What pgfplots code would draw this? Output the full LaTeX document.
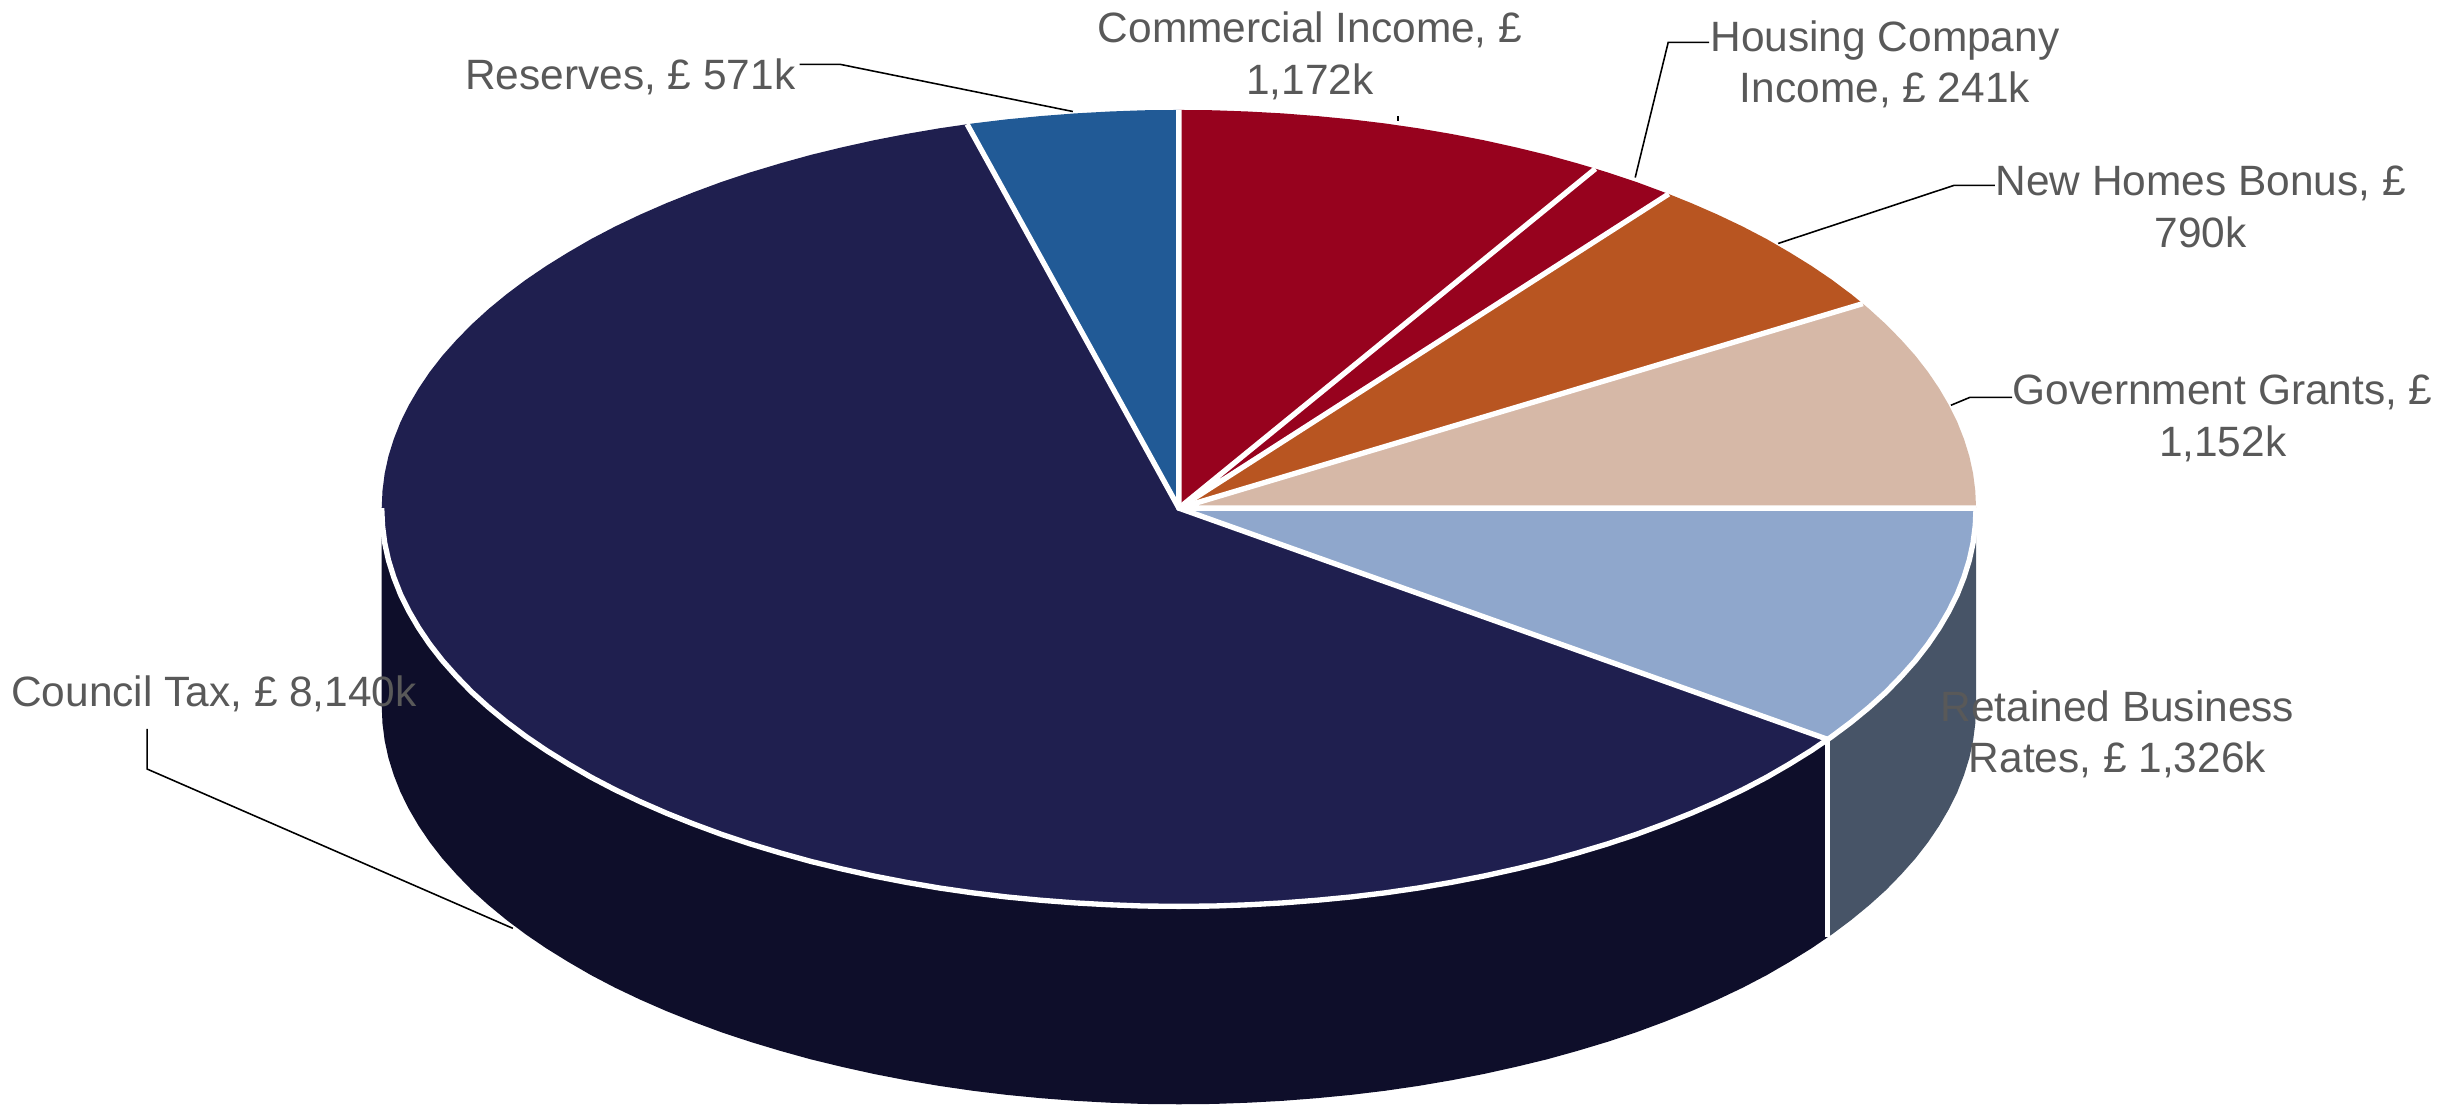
\documentclass[border=0pt]{standalone}
\usepackage{pgfplots}
\pgfplotsset{compat=1.18}
\usepackage{fontspec}
\setmainfont{Liberation Sans}
\definecolor{ctax}{HTML}{1F1F4F}
\definecolor{ctaxside}{HTML}{0E0E2A}
\definecolor{reserves}{HTML}{215A96}
\definecolor{commercial}{HTML}{97021E}
\definecolor{newhomes}{HTML}{B85521}
\definecolor{grants}{HTML}{D6B8A7}
\definecolor{retained}{HTML}{8FA7CC}
\definecolor{retainedside}{HTML}{475467}
\definecolor{labeltext}{HTML}{595959}
\tikzset{
    lbl/.style={font=\fontsize{27}{33}\selectfont, text=labeltext, align=center, inner sep=0pt},
    slice/.style={fill=#1, draw=none},
    sep/.style={draw=white, line width=3.4pt, line join=round},
    leader/.style={draw=black, line width=1pt},
}
\begin{document}
\begin{tikzpicture}
\begin{axis}[
    width=1568pt, height=703pt, scale only axis,
    xmin=0, xmax=1568, ymin=0, ymax=703, y dir=reverse,
    hide axis, clip=false,
]
% keep the whole canvas in the bounding box, hide axis drops it
\path (axis cs:0,0) rectangle (axis cs:1568,703);
% side walls
\addplot[slice=ctaxside] coordinates {
 (243.0,323.5) (243.0,449.5) (243.5,460.6) (244.9,471.6) (247.3,482.6) (250.7,493.5) (255.0,504.4) (260.3,515.1)
 (266.5,525.7) (273.6,536.2) (281.6,546.5) (290.6,556.6) (300.3,566.6) (311.0,576.25) (322.5,585.7) (334.8,594.9)
 (347.9,603.8) (361.8,612.4) (376.3,620.8) (391.6,628.8) (407.6,636.4) (424.3,643.7) (441.6,650.6) (459.4,657.2)
 (477.8,663.3) (496.75,669.0) (516.2,674.4) (536.0,679.2) (556.3,683.7) (576.9,687.7) (597.9,691.3) (619.2,694.4)
 (640.7,697.0) (662.4,699.1) (684.3,700.8) (706.2,702.0) (727.9,702.8) (750.5,703.0) (772.6,702.8) (794.8,702.0)
 (816.7,700.8) (838.6,699.1) (860.3,697.0) (881.8,694.4) (903.1,691.3) (924.1,687.7) (944.7,683.7) (965.0,679.2)
 (984.8,674.4) (1004.25,669.0) (1023.2,663.3) (1041.6,657.2) (1059.4,650.6) (1076.7,643.7) (1093.4,636.4)
 (1109.4,628.8) (1124.7,620.8) (1139.2,612.4) (1153.1,603.8) (1163.5,596.7) (1163.5,470.7) (750.5,323.5) };
\addplot[slice=retainedside] coordinates {
 (1163.5,470.7) (1163.5,596.7) (1166.2,594.9) (1178.5,585.7) (1190.0,576.25) (1200.7,566.6) (1210.4,556.6)
 (1219.4,546.5) (1227.4,536.2) (1234.5,525.7) (1240.7,515.1) (1246.0,504.4) (1250.3,493.5) (1253.7,482.6)
 (1256.1,471.6) (1257.5,460.6) (1258.0,449.5) (1258.0,323.5) (750.5,323.5) };
% top face
\addplot[slice=ctax] coordinates {
 (750.5,323.5) (615.7,79.1) (597.9,81.7) (576.9,85.3) (556.3,89.3) (536.0,93.8) (516.2,98.6) (496.75,104.0)
 (477.8,109.7) (459.4,115.8) (441.6,122.4) (424.3,129.3) (407.6,136.6) (391.6,144.2) (376.3,152.2) (361.8,160.6)
 (347.9,169.2) (334.8,178.1) (322.5,187.3) (311.0,196.75) (300.3,206.5) (290.6,216.4) (281.6,226.5) (273.6,236.8)
 (266.5,247.3) (260.3,257.9) (255.0,268.6) (250.7,279.5) (247.3,290.4) (244.9,301.4) (243.5,312.4)
 (243.0,323.5) (243.5,334.6) (244.9,345.6) (247.3,356.6) (250.7,367.5) (255.0,378.4) (260.3,389.1) (266.5,399.7)
 (273.6,410.2) (281.6,420.5) (290.6,430.6) (300.3,440.6) (311.0,450.25) (322.5,459.7) (334.8,468.9) (347.9,477.8)
 (361.8,486.4) (376.3,494.8) (391.6,502.8) (407.6,510.4) (424.3,517.7) (441.6,524.6) (459.4,531.2) (477.8,537.3)
 (496.75,543.0) (516.2,548.4) (536.0,553.2) (556.3,557.7) (576.9,561.7) (597.9,565.3) (619.2,568.4) (640.7,571.0)
 (662.4,573.1) (684.3,574.8) (706.2,576.0) (727.9,576.8) (750.5,577.0) (772.6,576.8) (794.8,576.0) (816.7,574.8)
 (838.6,573.1) (860.3,571.0) (881.8,568.4) (903.1,565.3) (924.1,561.7) (944.7,557.7) (965.0,553.2) (984.8,548.4)
 (1004.25,543.0) (1023.2,537.3) (1041.6,531.2) (1059.4,524.6) (1076.7,517.7) (1093.4,510.4) (1109.4,502.8)
 (1124.7,494.8) (1139.2,486.4) (1153.1,477.8) (1163.5,470.7) (750.5,323.5) };
\addplot[slice=reserves] coordinates {
 (750.5,323.5) (750.5,70.0) (727.9,70.2) (706.2,71.0) (684.3,72.2) (662.4,73.9) (640.7,76.0) (619.2,78.6) (615.7,79.1)
 (750.5,323.5) };
\addplot[slice=commercial] coordinates {
 (750.5,323.5) (750.5,70.0) (772.6,70.2) (794.8,71.0) (816.7,72.2) (838.6,73.9) (860.3,76.0) (881.8,78.6) (903.1,81.7)
 (924.1,85.3) (944.7,89.3) (965.0,93.8) (984.8,98.6) (1004.25,104.0) (1015.7,107.4) (1023.2,109.7) (1041.6,115.8)
 (1062.3,123.5) (750.5,323.5) };
\addplot[slice=newhomes] coordinates {
 (750.5,323.5) (1062.3,123.5) (1076.7,129.3) (1093.4,136.6) (1109.4,144.2) (1124.7,152.2) (1139.2,160.6) (1153.1,169.2)
 (1166.2,178.1) (1178.5,187.3) (1185.9,193.3) (750.5,323.5) };
\addplot[slice=grants] coordinates {
 (750.5,323.5) (1185.9,193.3) (1190.0,196.75) (1200.7,206.5) (1210.4,216.4) (1219.4,226.5) (1227.4,236.8) (1234.5,247.3)
 (1240.7,257.9) (1246.0,268.6) (1250.3,279.5) (1253.7,290.4) (1256.1,301.4) (1257.5,312.4) (1258.0,323.5) (750.5,323.5) };
\addplot[slice=retained] coordinates {
 (750.5,323.5) (1258.0,323.5) (1257.5,334.6) (1256.1,345.6) (1253.7,356.6) (1250.3,367.5) (1246.0,378.4) (1240.7,389.1)
 (1234.5,399.7) (1227.4,410.2) (1219.4,420.5) (1210.4,430.6) (1200.7,440.6) (1190.0,450.25) (1178.5,459.7) (1166.2,468.9)
 (1163.5,470.7) (750.5,323.5) };
% white separators
\addplot[sep] coordinates {
 (243.0,323.5) (243.5,334.6) (244.9,345.6) (247.3,356.6) (250.7,367.5) (255.0,378.4) (260.3,389.1) (266.5,399.7)
 (273.6,410.2) (281.6,420.5) (290.6,430.6) (300.3,440.6) (311.0,450.25) (322.5,459.7) (334.8,468.9) (347.9,477.8)
 (361.8,486.4) (376.3,494.8) (391.6,502.8) (407.6,510.4) (424.3,517.7) (441.6,524.6) (459.4,531.2) (477.8,537.3)
 (496.75,543.0) (516.2,548.4) (536.0,553.2) (556.3,557.7) (576.9,561.7) (597.9,565.3) (619.2,568.4) (640.7,571.0)
 (662.4,573.1) (684.3,574.8) (706.2,576.0) (727.9,576.8) (750.5,577.0) (772.6,576.8) (794.8,576.0) (816.7,574.8)
 (838.6,573.1) (860.3,571.0) (881.8,568.4) (903.1,565.3) (924.1,561.7) (944.7,557.7) (965.0,553.2) (984.8,548.4)
 (1004.25,543.0) (1023.2,537.3) (1041.6,531.2) (1059.4,524.6) (1076.7,517.7) (1093.4,510.4) (1109.4,502.8)
 (1124.7,494.8) (1139.2,486.4) (1153.1,477.8) (1163.5,470.7) (1166.2,468.9) (1178.5,459.7) (1190.0,450.25)
 (1200.7,440.6) (1210.4,430.6) (1219.4,420.5) (1227.4,410.2) (1234.5,399.7) (1240.7,389.1) (1246.0,378.4)
 (1250.3,367.5) (1253.7,356.6) (1256.1,345.6) (1257.5,334.6) (1258.0,323.5) };
\addplot[sep] coordinates { (1163.5,470.7) (1163.5,596.7) };
\addplot[sep] coordinates { (615.7,79.1) (750.5,323.5) (750.5,70.0) };
\addplot[sep] coordinates { (1015.7,107.4) (750.5,323.5) (1062.3,123.5) };
\addplot[sep] coordinates { (1185.9,193.3) (750.5,323.5) (1258.0,323.5) };
\addplot[sep] coordinates { (750.5,323.5) (1163.5,470.7) };
% leader lines
\addplot[leader] coordinates { (509,41) (535,41) (683,71) };
\addplot[leader] coordinates { (890,74) (890,77) };
\addplot[leader] coordinates { (1088,27) (1062,27) (1041,113) };
\addplot[leader] coordinates { (1270,118) (1244,118) (1132,155) };
\addplot[leader] coordinates { (1281,253) (1254,253) (1242,258) };
\addplot[leader] coordinates { (93.7,464) (93.7,489.6) (326.5,591) };
% labels
\node[lbl, anchor=west] at (axis cs:296,49) {Reserves, £ 571k};
\node[lbl] at (axis cs:834,35.5) {Commercial Income, £\\1,172k};
\node[lbl] at (axis cs:1200,41) {Housing Company\\Income, £ 241k};
\node[lbl] at (axis cs:1401,131.5) {New Homes Bonus, £\\790k};
\node[lbl] at (axis cs:1415,266.5) {Government Grants, £\\1,152k};
\node[lbl] at (axis cs:1348,467.5) {Retained Business\\Rates, £ 1,326k};
\node[lbl, anchor=west] at (axis cs:7,442) {Council Tax, £ 8,140k};
\end{axis}
\end{tikzpicture}
\end{document}
